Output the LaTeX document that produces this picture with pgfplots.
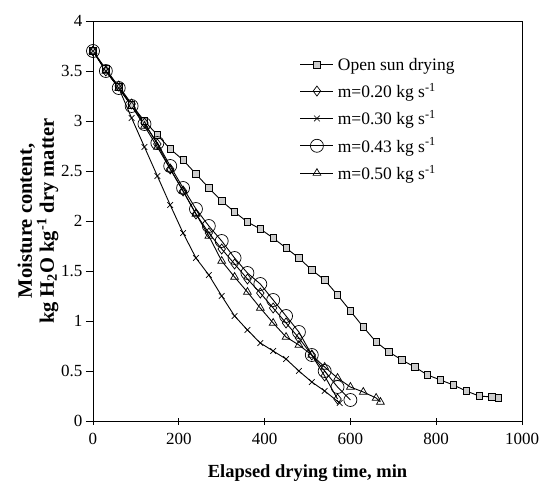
\documentclass[border=0pt]{standalone}
\usepackage{fontspec}
\setmainfont{Liberation Serif}
\usepackage{pgfplots}
\pgfplotsset{compat=1.18}
\begin{document}
\begin{tikzpicture}[font=\fontsize{17}{20}\selectfont]
\useasboundingbox (-93pt,-72pt) rectangle (447pt,421pt);
\begin{axis}[
    width=429pt, height=400pt, scale only axis,
    xmin=0, xmax=1000, ymin=0, ymax=4,
    xtick={0,200,400,600,800,1000},
    ytick={0,0.5,1,1.5,2,2.5,3,3.5,4},
    xtick pos=bottom, ytick pos=left,
    xtick align=center, ytick align=outside,
    major tick length=7pt,
    /pgf/number format/assume math mode=true,
    /pgf/number format/1000 sep={},
    xticklabel shift=5pt,
    axis line style={line width=0.9pt},
    every tick/.style={black, line width=0.9pt},
    xlabel={\bfseries Elapsed drying time, min},
    xlabel style={font=\fontsize{18.5}{22}\selectfont, yshift=-13pt},
    ylabel={\bfseries Moisture content,\\ \bfseries kg H\textsubscript{2}O kg\textsuperscript{-1} dry matter},
    ylabel style={align=center, font=\fontsize{20.5}{22}\selectfont, yshift=-4pt},
    legend cell align=left,
    legend style={at={(0.475,0.918)}, anchor=north west, draw=none, fill=none,
        row sep=7.5pt, font=\fontsize{17.5}{20}\selectfont, nodes={inner xsep=4pt}},
    legend image code/.code={\draw[mark repeat=2, mark phase=2] plot coordinates {(0pt,0pt) (16.5pt,0pt) (33pt,0pt)};},
]
% open sun drying
\addplot[black, line width=0.9pt, mark=square*, mark size=3.2pt, mark options={fill=gray!40, draw=black, line width=0.7pt}] coordinates {
(0,3.70) (30,3.52) (60,3.34) (90,3.16) (120,3.00) (150,2.86) (180,2.72) (210,2.61)
(240,2.47) (270,2.33) (300,2.20) (330,2.09) (360,1.99) (390,1.92) (420,1.83) (450,1.73)
(480,1.63) (510,1.51) (540,1.41) (570,1.26) (600,1.10) (630,0.94) (660,0.79) (690,0.69)
(720,0.61) (750,0.54) (780,0.46) (810,0.41) (840,0.36) (870,0.30) (900,0.25) (930,0.24) (945,0.23)
};
\addlegendentry{Open sun drying}
% m = 0.20
\addplot[black, line width=0.9pt, mark=diamond, mark size=5pt, mark options={solid, line width=0.7pt}] coordinates {
(0,3.70) (30,3.50) (60,3.35) (90,3.17) (120,2.98) (150,2.77) (180,2.52) (210,2.30)
(240,2.07) (270,1.88) (300,1.72) (330,1.57) (360,1.42) (390,1.28) (420,1.13) (450,0.98)
(480,0.83) (510,0.66) (540,0.45) (570,0.22)
};
\addlegendentry{m=0.20 kg s\textsuperscript{-1}}
% m = 0.30
\addplot[black, line width=0.9pt, mark=x, mark size=4pt, mark options={solid, line width=0.7pt}] coordinates {
(0,3.70) (30,3.50) (60,3.33) (90,3.03) (120,2.74) (150,2.45) (180,2.16) (210,1.88)
(240,1.63) (270,1.46) (300,1.25) (330,1.05) (360,0.91) (390,0.78) (420,0.70) (450,0.62)
(480,0.50) (510,0.39) (540,0.30) (575,0.18)
};
\addlegendentry{m=0.30 kg s\textsuperscript{-1}}
% m = 0.43
\addplot[black, line width=0.9pt, mark=o, mark size=6.5pt, mark options={solid, line width=0.7pt}] coordinates {
(0,3.70) (30,3.50) (60,3.33) (90,3.15) (120,2.97) (150,2.78) (180,2.55) (210,2.33)
(240,2.12) (270,1.95) (300,1.80) (330,1.63) (360,1.48) (390,1.37) (420,1.21) (450,1.05)
(480,0.89) (510,0.66) (540,0.50) (570,0.34) (600,0.21)
};
\addlegendentry{m=0.43 kg s\textsuperscript{-1}}
% m = 0.50
\addplot[black, line width=0.9pt, mark=triangle, mark size=4.5pt, mark options={solid, line width=0.7pt}] coordinates {
(0,3.70) (30,3.50) (60,3.33) (90,3.15) (120,2.95) (150,2.74) (180,2.52) (210,2.30)
(240,2.07) (270,1.85) (300,1.60) (330,1.44) (360,1.29) (390,1.13) (420,0.98) (450,0.84)
(480,0.76) (510,0.66) (540,0.54) (570,0.43) (600,0.34) (630,0.29) (660,0.23) (670,0.19)
};
\addlegendentry{m=0.50 kg s\textsuperscript{-1}}
\end{axis}
\end{tikzpicture}
\end{document}
